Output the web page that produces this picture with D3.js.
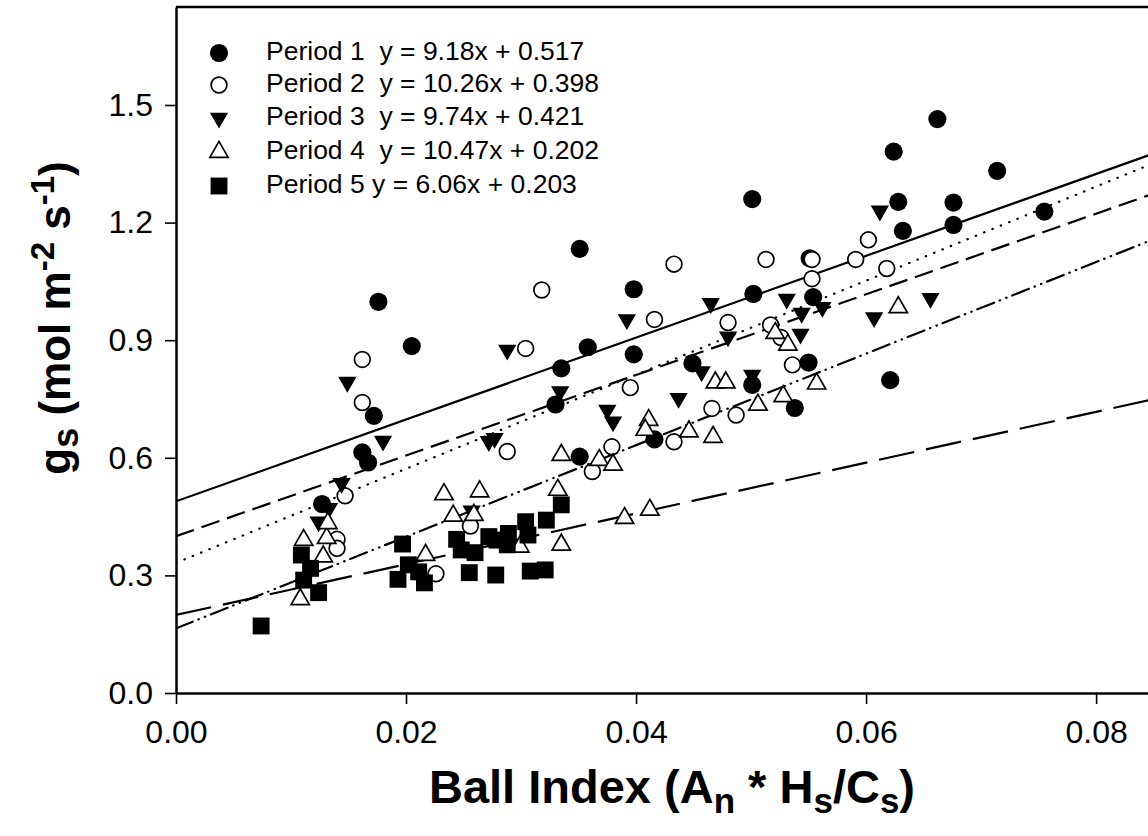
<!DOCTYPE html>
<html>
<head>
<meta charset="utf-8">
<script src="https://cdn.jsdelivr.net/npm/d3@7"></script>
<style>
  body { margin: 0; background: #fff; }
  text { font-family: "Liberation Sans", Arial, sans-serif; fill: #000; }
</style>
</head>
<body>
<div id="chart"></div>
<script>
// Period 1 - filled circles
var p1x = [0.0176, 0.0205, 0.0172, 0.0162, 0.0167, 0.0127, 0.0351, 0.0398, 0.0358, 0.0398,
           0.0335, 0.0330, 0.0449, 0.0501, 0.0416, 0.0351, 0.0502, 0.0554, 0.0551, 0.0550,
           0.0538, 0.0621, 0.0662, 0.0624, 0.0714, 0.0628, 0.0676, 0.0632, 0.0676, 0.0755, 0.0501];
var p1y = [0.998, 0.885, 0.707, 0.614, 0.588, 0.482, 1.133, 1.030, 0.882, 0.864,
           0.828, 0.736, 0.841, 0.786, 0.647, 0.603, 1.018, 1.010, 1.109, 0.843,
           0.727, 0.798, 1.464, 1.381, 1.332, 1.253, 1.251, 1.179, 1.194, 1.228, 1.260];

// Period 2 - open circles
var p2x = [0.0162, 0.0162, 0.0147, 0.0140, 0.0140, 0.0256, 0.0226, 0.0318, 0.0304, 0.0288,
           0.0362, 0.0379, 0.0433, 0.0416, 0.0395, 0.0433, 0.0466, 0.0487, 0.0480, 0.0513,
           0.0517, 0.0526, 0.0536, 0.0553, 0.0553, 0.0602, 0.0591, 0.0618];
var p2y = [0.851, 0.741, 0.503, 0.392, 0.369, 0.426, 0.304, 1.028, 0.879, 0.616,
           0.565, 0.628, 1.094, 0.953, 0.779, 0.641, 0.726, 0.709, 0.945, 1.106,
           0.939, 0.907, 0.837, 1.106, 1.057, 1.156, 1.106, 1.083];

// Period 3 - filled down triangles
var p3x = [0.0149, 0.0180, 0.0144, 0.0133, 0.0124, 0.0257, 0.0272, 0.0277, 0.0288, 0.0334,
           0.0375, 0.0380, 0.0392, 0.0437, 0.0457, 0.0465, 0.0480, 0.0501, 0.0531, 0.0544,
           0.0543, 0.0562, 0.0607, 0.0612, 0.0656];
var p3y = [0.793, 0.643, 0.535, 0.471, 0.437, 0.465, 0.642, 0.650, 0.875, 0.769,
           0.722, 0.692, 0.953, 0.752, 0.820, 0.994, 0.909, 0.811, 1.005, 0.969,
           0.916, 0.984, 0.958, 1.230, 1.007];

// Period 4 - open up triangles
var p4x = [0.0111, 0.0131, 0.0132, 0.0128, 0.0108, 0.0233, 0.0264, 0.0241, 0.0259, 0.0217,
           0.0299, 0.0332, 0.0335, 0.0335, 0.0368, 0.0380, 0.0390, 0.0412, 0.0411, 0.0408,
           0.0446, 0.0467, 0.0469, 0.0478, 0.0506, 0.0528, 0.0557, 0.0521, 0.0532, 0.0628];
var p4y = [0.390, 0.395, 0.433, 0.348, 0.239, 0.507, 0.514, 0.452, 0.454, 0.352,
           0.373, 0.518, 0.378, 0.607, 0.594, 0.582, 0.446, 0.467, 0.696, 0.671,
           0.667, 0.653, 0.792, 0.792, 0.735, 0.757, 0.789, 0.918, 0.888, 0.984];

// Period 5 - filled squares
var p5x = [0.0074, 0.0109, 0.0117, 0.0111, 0.0124, 0.0197, 0.0202, 0.0211, 0.0193, 0.0216,
           0.0244, 0.0248, 0.0260, 0.0255, 0.0272, 0.0279, 0.0278, 0.0289, 0.0288, 0.0304,
           0.0306, 0.0322, 0.0335, 0.0308, 0.0321];
var p5y = [0.171, 0.352, 0.318, 0.288, 0.256, 0.380, 0.327, 0.309, 0.290, 0.281,
           0.392, 0.365, 0.358, 0.307, 0.399, 0.390, 0.301, 0.407, 0.378, 0.437,
           0.403, 0.441, 0.480, 0.311, 0.314];

var legendLabels = ["Period 1  y = 9.18x + 0.517", "Period 2  y = 10.26x + 0.398",
                    "Period 3  y = 9.74x + 0.421", "Period 4  y = 10.47x + 0.202",
                    "Period 5 y = 6.06x + 0.203"];

// fitted lines as drawn: value at x = 0 and at the right edge
var lineStart = [0.489, 0.332, 0.400, 0.165, 0.199];
var lineEnd = [1.372, 1.347, 1.270, 1.153, 0.747];
var lineEndX = 0.0846;

var xTicks = [0, 0.02, 0.04, 0.06, 0.08];
var yTicks = [0, 0.3, 0.6, 0.9, 1.2, 1.5];

var width = 1148, height = 836;

var x = d3.scaleLinear().domain([0, 0.0846]).range([176, 1149]);
var y = d3.scaleLinear().domain([0, 1.75]).range([693, 7]);

var svg = d3.select("#chart").append("svg")
    .attr("width", width)
    .attr("height", height)
    .style("display", "block");

svg.append("defs").append("clipPath").attr("id", "plot")
  .append("rect").attr("x", 176).attr("y", 7).attr("width", 980).attr("height", 686);

// top frame line
svg.append("line")
    .attr("x1", 176).attr("x2", 1152)
    .attr("y1", 7).attr("y2", 7)
    .attr("stroke", "#000").attr("stroke-width", 2.5);

// regression lines
var dashes = [null, "0.5,8.5", "19,8", "18,6,0.5,6.5,0.5,6", "36,12"];
var caps = ["butt", "round", "butt", "round", "butt"];
var lineGen = d3.line().x(function(d) { return x(d[0]); }).y(function(d) { return y(d[1]); });

svg.append("g").attr("clip-path", "url(#plot)")
  .selectAll("path")
  .data(lineStart.map(function(v, i) {
    return { pts: [[0, v], [lineEndX, lineEnd[i]]], dash: dashes[i], cap: caps[i] };
  }))
  .enter().append("path")
    .attr("d", function(d) { return lineGen(d.pts); })
    .attr("fill", "none")
    .attr("stroke", "#000")
    .attr("stroke-width", 2.2)
    .attr("stroke-linecap", function(d) { return d.cap; })
    .attr("stroke-dasharray", function(d) { return d.dash; });

// symbol styles for each period
var styles = [
  { type: d3.symbolCircle, size: 260, fill: "#000", stroke: "none", rot: 0 },
  { type: d3.symbolCircle, size: 195, fill: "#fff", stroke: "#000", rot: 0 },
  { type: d3.symbolTriangle, size: 145, fill: "#000", stroke: "none", rot: 180 },
  { type: d3.symbolTriangle, size: 145, fill: "#fff", stroke: "#000", rot: 0 },
  { type: d3.symbolSquare, size: 285, fill: "#000", stroke: "none", rot: 0 }
];

var series = [[p1x, p1y], [p2x, p2y], [p3x, p3y], [p4x, p4y], [p5x, p5y]];

function drawSymbol(g, s, px, py) {
  g.append("path")
    .attr("d", d3.symbol().type(s.type).size(s.size)())
    .attr("transform", "translate(" + px + "," + py + ") rotate(" + s.rot + ")")
    .attr("fill", s.fill)
    .attr("stroke", s.stroke)
    .attr("stroke-width", 1.7);
}

var pts = svg.append("g");
series.forEach(function(ser, i) {
  ser[0].forEach(function(xv, j) {
    drawSymbol(pts, styles[i], x(xv), y(ser[1][j]));
  });
});

// y axis
var yAxis = svg.append("g")
    .attr("transform", "translate(176,0)")
    .call(d3.axisLeft(y).tickValues(yTicks).tickFormat(d3.format(".1f"))
      .tickSizeInner(11).tickSizeOuter(0).tickPadding(12));

// x axis
var xAxis = svg.append("g")
    .attr("transform", "translate(0,693)")
    .call(d3.axisBottom(x).tickValues(xTicks).tickFormat(d3.format(".2f"))
      .tickSizeInner(11).tickSizeOuter(0).tickPadding(16));

[yAxis, xAxis].forEach(function(a) {
  a.select(".domain").attr("stroke", "#000").attr("stroke-width", 2.5);
  a.selectAll(".tick line").attr("stroke", "#000").attr("stroke-width", 1.6);
  a.selectAll(".tick text")
    .style("font-family", "'Liberation Sans', Arial, sans-serif")
    .style("font-size", "32px")
    .attr("fill", "#000");
});

// legend
var leg = svg.append("g");
var legRows = [53, 85, 118, 152, 186];
legendLabels.forEach(function(lbl, i) {
  drawSymbol(leg, styles[i], 219, legRows[i]);
  leg.append("text")
    .attr("x", 266)
    .attr("y", legRows[i] + 7)
    .style("font-size", "26.5px")
    .attr("xml:space", "preserve")
    .style("white-space", "pre")
    .text(lbl);
});

// x axis title
var xt = svg.append("text")
    .attr("x", 672)
    .attr("y", 803)
    .attr("text-anchor", "middle")
    .style("font-size", "47px")
    .style("font-weight", "bold");
xt.append("tspan").text("Ball Index (A");
xt.append("tspan").attr("dy", 10).style("font-size", "35px").text("n");
xt.append("tspan").attr("dy", -10).text(" * H");
xt.append("tspan").attr("dy", 10).style("font-size", "35px").text("s");
xt.append("tspan").attr("dy", -10).text("/C");
xt.append("tspan").attr("dy", 10).style("font-size", "35px").text("s");
xt.append("tspan").attr("dy", -10).text(")");

// y axis title
var yt = svg.append("text")
    .attr("transform", "translate(70,318) rotate(-90)")
    .attr("text-anchor", "middle")
    .style("font-size", "44px")
    .style("font-weight", "bold");
yt.append("tspan").text("g");
yt.append("tspan").attr("dy", 8).style("font-size", "36px").text("s");
yt.append("tspan").attr("dy", -8).text(" (mol m");
yt.append("tspan").attr("dy", -16).style("font-size", "33px").text("-2");
yt.append("tspan").attr("dy", 16).text(" s");
yt.append("tspan").attr("dy", -16).style("font-size", "33px").text("-1");
yt.append("tspan").attr("dy", 16).text(")");
</script>
</body>
</html>
